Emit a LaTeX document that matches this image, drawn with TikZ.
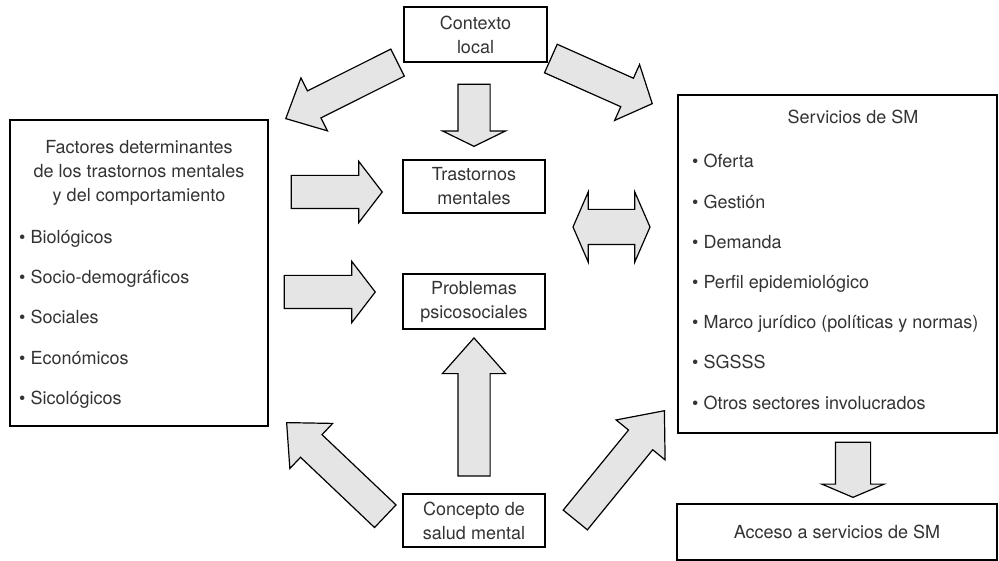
\documentclass[tikz,border=0pt]{standalone}
\usepackage{fontspec}
\setmainfont{TeX Gyre Heros}
\usetikzlibrary{shapes.arrows,positioning}

\begin{document}
\begin{tikzpicture}[
    x=1pt, y=-1pt,
    box/.style={rectangle, draw, line width=1.4pt, align=center, inner sep=0pt, text=black!80, font=\fontsize{18}{24}\selectfont},
    item/.style={anchor=base west, inner sep=0pt, text=black!80, font=\fontsize{18}{22}\selectfont},
    title/.style={anchor=base, inner sep=0pt, text=black!80, font=\fontsize{18}{22}\selectfont},
    blk/.style={single arrow, draw, line width=1.2pt, fill=black!10, inner xsep=0pt, anchor=tip},
    dblk/.style={double arrow, draw, line width=1.2pt, fill=black!10, inner xsep=0pt}
]
\useasboundingbox (0,0) rectangle (999,561);

% cajas
\node[box, minimum width=143pt, minimum height=55pt] (ctx) at (475.5,34.5) {Contexto\\local};
\node[box, minimum width=142pt, minimum height=53pt] (trast) at (474,186.5) {Trastornos\\mentales};
\node[box, minimum width=142pt, minimum height=55pt] (prob) at (474,301.5) {Problemas\\psicosociales};
\node[box, minimum width=142pt, minimum height=53pt] (conc) at (474,520.5) {Concepto de\\salud mental};
\node[box, minimum width=258pt, minimum height=306pt] (fact) at (139,273) {};
\node[box, minimum width=319pt, minimum height=338pt] (serv) at (837.5,264) {};
\node[box, minimum width=320pt, minimum height=56pt] (acc) at (837,532) {Acceso a servicios de SM};

% factores
\node[title] (ft1) at (139,154) {Factores determinantes};
\node[title] (ft2) at (139,178) {de los trastornos mentales};
\node[title] (ft3) at (139,202) {y del comportamiento};
\node[item] (f1) at (19,244) {• Biológicos};
\node[item] (f2) at (19,284) {• Socio-demográficos};
\node[item] (f3) at (19,324) {• Sociales};
\node[item] (f4) at (19,364) {• Económicos};
\node[item] (f5) at (19,404) {• Sicológicos};

% servicios
\node[title] (st) at (853,124) {Servicios de SM};
\node[item] (s1) at (692,168) {• Oferta};
\node[item] (s2) at (692,209) {• Gestión};
\node[item] (s3) at (692,249) {• Demanda};
\node[item] (s4) at (692,289) {• Perfil epidemiológico};
\node[item] (s5) at (692,329) {• Marco jurídico (políticas y normas)};
\node[item] (s6) at (692,369) {• SGSSS};
\node[item] (s7) at (692,409) {• Otros sectores involucrados};

% flechas
\node[blk, rotate=206.6, inner ysep=14.5pt, minimum height=125pt, minimum width=58pt, single arrow head extend=14.5pt, single arrow tip angle=86] (ctxfact) at (285,119) {};
\node[blk, rotate=-24, inner ysep=15pt, minimum height=111pt, minimum width=60pt, single arrow head extend=15pt, single arrow tip angle=96] (ctxserv) at (653,104) {};
\node[blk, rotate=-90, inner ysep=15.5pt, minimum height=62pt, minimum width=62pt, single arrow head extend=15.5pt, single arrow tip angle=128] (ctxtrast) at (474,147) {};
\node[blk, inner ysep=16pt, minimum height=91pt, minimum width=60pt, single arrow head extend=14pt, single arrow tip angle=105] (facttrast) at (383,192) {};
\node[blk, inner ysep=16pt, minimum height=91pt, minimum width=60pt, single arrow head extend=14pt, single arrow tip angle=105] (factprob) at (376,292) {};
\node[dblk, inner ysep=17pt, minimum height=77pt, minimum width=69pt, double arrow head extend=17.5pt, double arrow tip angle=133] (tpserv) at (611.5,227) {};
\node[blk, rotate=90, inner ysep=15.5pt, minimum height=138pt, minimum width=62pt, single arrow head extend=15.5pt, single arrow tip angle=83] (concprob) at (474,337) {};
\node[blk, rotate=136.5, inner ysep=15pt, minimum height=136pt, minimum width=61pt, single arrow head extend=15.5pt, single arrow tip angle=85] (concfact) at (286,422) {};
\node[blk, rotate=50.8, inner ysep=15pt, minimum height=141pt, minimum width=61pt, single arrow head extend=16pt, single arrow tip angle=80] (concserv) at (665,410) {};
\node[blk, rotate=-90, inner ysep=17pt, minimum height=55pt, minimum width=61pt, single arrow head extend=13.5pt, single arrow tip angle=134] (servacc) at (853,498) {};
\end{tikzpicture}
\end{document}
